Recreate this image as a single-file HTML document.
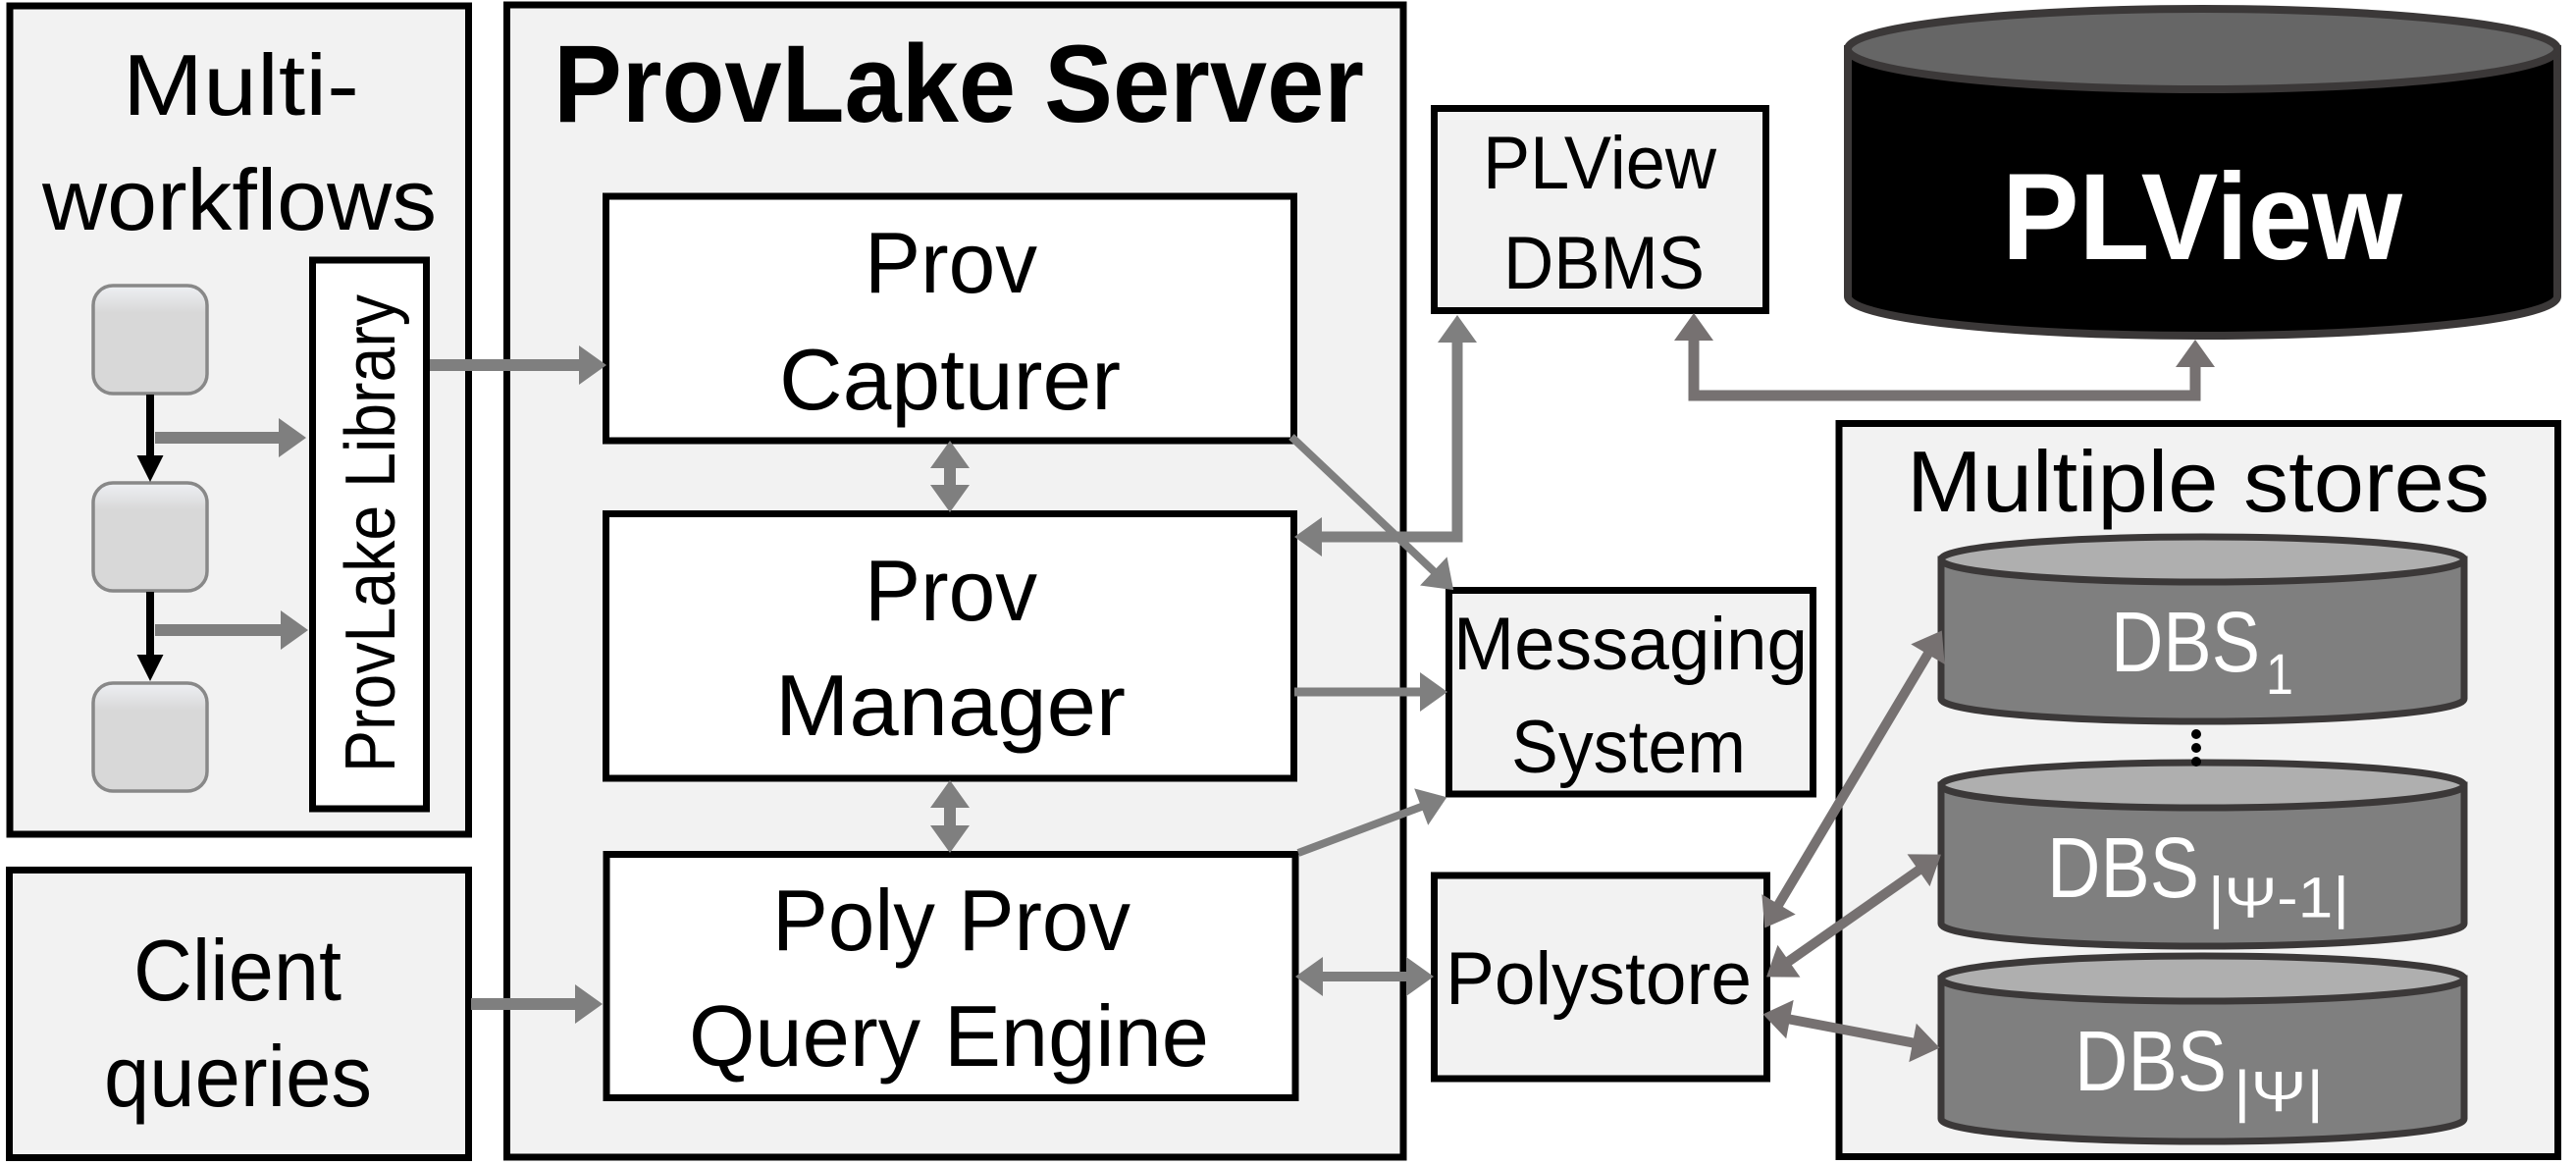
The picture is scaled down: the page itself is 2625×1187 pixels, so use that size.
<!DOCTYPE html>
<html><head><meta charset="utf-8"><style>
html,body{margin:0;padding:0;background:#fff}
svg{display:block}
text{font-family:"Liberation Sans",sans-serif;fill:#000}
</style></head><body>
<svg xmlns="http://www.w3.org/2000/svg" width="2625" height="1187" viewBox="0 0 2625 1187">
<defs>
<linearGradient id="g" x1="0" y1="0" x2="0" y2="1"><stop offset="0" stop-color="#eef0f4"/><stop offset=".25" stop-color="#d8d8d8"/><stop offset="1" stop-color="#d8d8d8"/></linearGradient>
<marker id="a" markerUnits="userSpaceOnUse" markerWidth="28" markerHeight="40" refX="3" refY="20" orient="auto-start-reverse" overflow="visible"><path d="M0 0L28 20L0 40z" fill="#7f7f7f"/></marker>
<marker id="b" markerUnits="userSpaceOnUse" markerWidth="28" markerHeight="40" refX="3" refY="20" orient="auto-start-reverse" overflow="visible"><path d="M0 0L28 20L0 40z" fill="#767171"/></marker>
</defs>
<rect width="2625" height="1187" fill="#fff"/>
<g fill="#f2f2f2" stroke="#000" stroke-width="7">
<rect x="10" y="6" width="467.500" height="844"/>
<rect x="9.500" y="886.500" width="468" height="293"/>
<rect x="516.500" y="5" width="913.500" height="1174"/>
<rect x="1874" y="431.500" width="732.500" height="747"/>
<rect x="1461.500" y="110.500" width="338" height="206"/>
<rect x="1476.500" y="601.500" width="371" height="207.500"/>
<rect x="1461.500" y="892" width="339" height="207"/>
</g>
<g fill="#fff" stroke="#000" stroke-width="7">
<rect x="617.500" y="200" width="701" height="249"/>
<rect x="617.500" y="523.500" width="701" height="269.500"/>
<rect x="618" y="870.500" width="702" height="248"/>
<rect x="318.500" y="265" width="116" height="559"/>
</g>
<g fill="url(#g)" stroke="#888" stroke-width="3.500">
<rect x="95" y="291" width="116" height="110" rx="20"/>
<rect x="95" y="492" width="116" height="110" rx="20"/>
<rect x="95" y="696" width="116" height="110" rx="20"/>
</g>
<g fill="#000"><rect x="149" y="402" width="8" height="64"/><path d="M139.500 464H166.500L153 491z"/><rect x="149" y="603" width="8" height="66"/><path d="M139.500 667H166.500L153 694z"/></g>
<g stroke="#3b3838" stroke-width="8">
<path d="M1883 50V302A361.500 40 0 0 0 2606 302V50z" fill="#000"/>
<ellipse cx="2244.500" cy="50" rx="361.500" ry="41" fill="#666"/>
</g>
<g stroke="#3b3838" stroke-width="7">
<path d="M1978 570V712A266.500 23 0 0 0 2511 712V570z" fill="#7f7f7f"/><ellipse cx="2244.500" cy="570" rx="266.500" ry="23" fill="#afafaf"/>
<path d="M1978 800V941A266.500 23 0 0 0 2511 941V800z" fill="#7f7f7f"/><ellipse cx="2244.500" cy="800" rx="266.500" ry="23" fill="#afafaf"/>
<path d="M1978 997V1140A266.500 23 0 0 0 2511 1140V997z" fill="#7f7f7f"/><ellipse cx="2244.500" cy="997" rx="266.500" ry="23" fill="#afafaf"/>
</g>
<g fill="#000"><circle cx="2238" cy="748" r="5"/><circle cx="2238" cy="762" r="5"/><circle cx="2238" cy="776" r="5"/></g>
<g fill="none" stroke="#7f7f7f">
<path d="M158 446H287" stroke-width="12" marker-end="url(#a)"/>
<path d="M158 642H289" stroke-width="12" marker-end="url(#a)"/>
<path d="M438 372H593" stroke-width="12" marker-end="url(#a)"/>
<path d="M480 1023H589" stroke-width="12" marker-end="url(#a)"/>
<path d="M968 474V497" stroke-width="12" marker-start="url(#a)" marker-end="url(#a)"/>
<path d="M968 820V844" stroke-width="12" marker-start="url(#a)" marker-end="url(#a)"/>
<path d="M1316 445L1463 584" stroke-width="8" marker-end="url(#a)"/>
<path d="M1344 547H1485V346" stroke-width="11" marker-start="url(#a)" marker-end="url(#a)"/>
<path d="M1319 705H1450" stroke-width="9" marker-end="url(#a)"/>
<path d="M1323 869L1451 821" stroke-width="8" marker-end="url(#a)"/>
<path d="M1345 995H1436" stroke-width="10" marker-start="url(#a)" marker-end="url(#a)"/>
</g>
<g fill="none" stroke="#767171">
<path d="M1726 344V403H2237V371" stroke-width="11" marker-start="url(#b)" marker-end="url(#b)"/>
<path d="M1811 924L1966 664" stroke-width="10" marker-start="url(#b)" marker-end="url(#b)"/>
<path d="M1820.500 981L1957.500 885" stroke-width="10" marker-start="url(#b)" marker-end="url(#b)"/>
<path d="M1821 1038L1952 1063" stroke-width="10" marker-start="url(#b)" marker-end="url(#b)"/>
</g>
<g font-size="88">
<text x="125" y="117" textLength="241" lengthAdjust="spacingAndGlyphs">Multi-</text>
<text x="43" y="234" textLength="402" lengthAdjust="spacingAndGlyphs">workflows</text>
<text x="881" y="298" textLength="176" lengthAdjust="spacingAndGlyphs">Prov</text>
<text x="794" y="417" textLength="348" lengthAdjust="spacingAndGlyphs">Capturer</text>
<text x="881" y="632" textLength="176" lengthAdjust="spacingAndGlyphs">Prov</text>
<text x="790" y="749" textLength="357" lengthAdjust="spacingAndGlyphs">Manager</text>
<text x="787" y="968" textLength="365" lengthAdjust="spacingAndGlyphs">Poly Prov</text>
<text x="702" y="1086" textLength="530" lengthAdjust="spacingAndGlyphs">Query Engine</text>
<text x="136" y="1019" textLength="212" lengthAdjust="spacingAndGlyphs">Client</text>
<text x="106" y="1127" textLength="273" lengthAdjust="spacingAndGlyphs">queries</text>
<text x="1943" y="521" textLength="594" lengthAdjust="spacingAndGlyphs">Multiple stores</text>
</g>
<g font-size="76">
<text x="1511" y="192" textLength="238" lengthAdjust="spacingAndGlyphs">PLView</text>
<text x="1532" y="294" textLength="205" lengthAdjust="spacingAndGlyphs">DBMS</text>
<text x="1481" y="682" textLength="361" lengthAdjust="spacingAndGlyphs">Messaging</text>
<text x="1540" y="787" textLength="239" lengthAdjust="spacingAndGlyphs">System</text>
<text x="1473" y="1023" textLength="312" lengthAdjust="spacingAndGlyphs">Polystore</text>
</g>
<text x="564" y="124" font-size="112" font-weight="700" textLength="826" lengthAdjust="spacingAndGlyphs">ProvLake Server</text>
<text x="2040" y="264" font-size="125" font-weight="700" textLength="408" lengthAdjust="spacingAndGlyphs" style="fill:#fff">PLView</text>
<text transform="translate(402 787) rotate(-90)" font-size="72" textLength="487" lengthAdjust="spacingAndGlyphs">ProvLake Library</text>
<g font-size="87">
<text x="2151" y="684" textLength="152" lengthAdjust="spacingAndGlyphs" style="fill:#fff">DBS</text>
<text x="2086" y="914" textLength="155" lengthAdjust="spacingAndGlyphs" style="fill:#fff">DBS</text>
<text x="2114" y="1111" textLength="155" lengthAdjust="spacingAndGlyphs" style="fill:#fff">DBS</text>
</g>
<g font-size="58">
<text x="2309" y="707" textLength="28" lengthAdjust="spacingAndGlyphs" style="fill:#fff">1</text>
<text x="2250" y="934.500" textLength="144" lengthAdjust="spacingAndGlyphs" style="fill:#fff">|Ψ-1|</text>
<text x="2276" y="1132" textLength="92" lengthAdjust="spacingAndGlyphs" style="fill:#fff">|Ψ|</text>
</g>
</svg>
</body></html>
